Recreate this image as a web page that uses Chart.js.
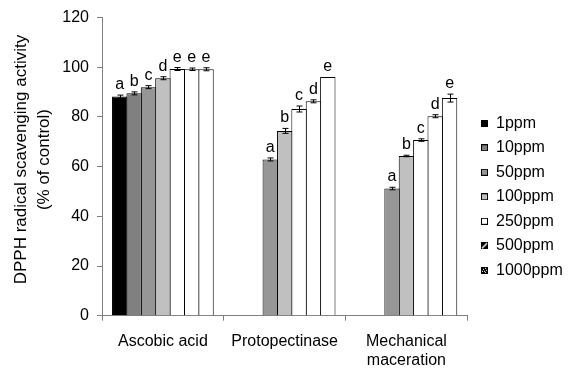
<!DOCTYPE html>
<html>
<head>
<meta charset="utf-8">
<script src="https://cdn.jsdelivr.net/npm/chart.js@4.4.1/dist/chart.umd.min.js"></script>
<style>
  html, body { margin: 0; padding: 0; background: #fff; }
  canvas { display: block; }
</style>
</head>
<body>
<canvas id="chart" width="572" height="369"></canvas>
<script>
// groups on the x axis
const categories = ["Ascobic acid", "Protopectinase", ["Mechanical", "maceration"]];
// concentrations (one dataset each)
const concentrations = ["1ppm", "10ppm", "50ppm", "100ppm", "250ppm", "500ppm", "1000ppm"];

// % of control (null = not tested)
const ascobicAcid = [88.2, 89.5, 92.0, 95.6, 99.3, 99.2, 99.2];
const protopectinase = [null, null, 62.9, 74.4, 83.2, 86.3, 96.1];
const mechanical = [null, null, 51.2, 64.3, 70.7, 80.3, 87.6];

// error bars (+/-)
const ascobicErr = [0.6, 0.6, 0.6, 0.6, 0.6, 0.5, 0.6];
const protoErr = [null, null, 0.6, 1.0, 1.2, 0.6, 0];
const mechErr = [null, null, 0.5, 0.3, 0.5, 0.6, 1.6];

// significance letters
const ascobicSig = ["a", "b", "c", "d", "e", "e", "e"];
const protoSig = [null, null, "a", "b", "c", "d", "e"];
const mechSig = [null, null, "a", "b", "c", "d", "e"];

const barColors = ["#000000", "#808080", "#969696", "#c0c0c0", "#ffffff", "#ffffff", "#ffffff"];
const axisColor = "#808080";
const fontFamily = "Arial, 'Liberation Sans', sans-serif";

// small legend icons (500ppm and 1000ppm are patterned in the legend only)
function makeIcon(i) {
  const c = document.createElement("canvas");
  c.width = 7; c.height = 7;
  const g = c.getContext("2d");
  if (i === 5) {
    g.fillStyle = "#000"; g.fillRect(0, 0, 7, 7);
    g.strokeStyle = "#fff"; g.lineWidth = 1.4;
    g.beginPath(); g.moveTo(1, 6); g.lineTo(6, 1); g.stroke();
  } else if (i === 6) {
    g.fillStyle = "#000"; g.fillRect(0, 0, 7, 7);
    g.fillStyle = "#fff";
    [[2, 2], [4, 1], [1, 4], [3, 4], [5, 3], [4, 5]].forEach(p => g.fillRect(p[0], p[1], 1, 1));
  } else {
    g.fillStyle = barColors[i]; g.fillRect(0, 0, 7, 7);
    g.strokeStyle = "#000"; g.lineWidth = 1;
    g.strokeRect(0.5, 0.5, 6, 6);
  }
  return c;
}
const legendIcons = concentrations.map((_, i) => makeIcon(i));

const datasets = concentrations.map((label, i) => ({
  label: label,
  data: [ascobicAcid[i], protopectinase[i], mechanical[i]],
  errors: [ascobicErr[i], protoErr[i], mechErr[i]],
  letters: [ascobicSig[i], protoSig[i], mechSig[i]],
  backgroundColor: barColors[i],
  borderColor: "#000",
  borderWidth: 1,
  barPercentage: 1.07,
  categoryPercentage: 0.827,
}));

// error bars + letters on top of each bar
const errorBars = {
  id: "errorBars",
  afterDatasetsDraw(chart) {
    const ctx = chart.ctx;
    const yScale = chart.scales.y;
    ctx.save();
    ctx.strokeStyle = "#000";
    ctx.lineWidth = 1;
    ctx.fillStyle = "#000";
    ctx.font = "16px " + fontFamily;
    ctx.textAlign = "center";
    ctx.textBaseline = "alphabetic";
    chart.data.datasets.forEach((ds, i) => {
      chart.getDatasetMeta(i).data.forEach((bar, j) => {
        const v = ds.data[j];
        if (v == null) return;
        const e = ds.errors[j] || 0;
        const top = yScale.getPixelForValue(v + e);
        const bot = yScale.getPixelForValue(v - e);
        const x = Math.round(bar.x) + 0.5;
        if (e > 0) {
          ctx.beginPath();
          ctx.moveTo(x, top); ctx.lineTo(x, bot);
          ctx.moveTo(x - 3, top); ctx.lineTo(x + 3, top);
          ctx.moveTo(x - 3, bot); ctx.lineTo(x + 3, bot);
          ctx.stroke();
        }
        if (ds.letters[j]) ctx.fillText(ds.letters[j], bar.x, top - 6);
      });
    });
    ctx.restore();
  }
};

// put the legend column where the original has it
const legendPlace = {
  id: "legendPlace",
  afterLayout(chart) {
    const lg = chart.legend;
    const pad = lg.options.labels.padding;
    const dx = 481 - (lg.left + pad);
    lg.left += dx; lg.right += dx;
    const y0 = (lg.top + pad + lg.bottom - lg.columnSizes[0].height) / 2;
    const dy = 123.3 - 8 - y0;
    lg.top += dy; lg.bottom += dy;
  }
};

new Chart(document.getElementById("chart"), {
  type: "bar",
  data: { labels: categories, datasets: datasets },
  plugins: [errorBars, legendPlace],
  options: {
    responsive: false,
    animation: false,
    devicePixelRatio: 1,
    layout: { padding: { top: 14.7, right: 6.7, bottom: 0, left: 0 } },
    plugins: {
      tooltip: { enabled: false },
      legend: {
        position: "right",
        maxWidth: 98,
        labels: {
          usePointStyle: true,
          boxWidth: 7,
          boxHeight: 7,
          padding: 8.5,
          color: "#000",
          font: { size: 16, family: fontFamily },
          generateLabels(chart) {
            const items = Chart.defaults.plugins.legend.labels.generateLabels(chart);
            items.forEach((it, i) => { it.pointStyle = legendIcons[i]; });
            return items;
          }
        }
      }
    },
    scales: {
      x: {
        z: 1,
        grid: { offset: true, drawOnChartArea: false, tickLength: 5, color: axisColor },
        border: { color: axisColor },
        ticks: { color: "#000", font: { size: 16, family: fontFamily }, padding: 11, maxRotation: 0, autoSkip: false },
        afterFit(s) { s.height = 53.3; }
      },
      y: {
        min: 0,
        max: 120,
        ticks: { stepSize: 20, color: "#000", font: { size: 16, family: fontFamily }, padding: 8 },
        grid: { drawOnChartArea: false, tickLength: 5, color: axisColor },
        border: { color: axisColor },
        title: {
          display: true,
          text: ["\u00a0\u00a0\u00a0DPPH radical scavenging activity", "\u00a0\u00a0\u00a0(% of control)"],
          color: "#000",
          font: { size: 17, family: fontFamily, lineHeight: 1.365 },
          padding: { top: 9.6, bottom: 0 }
        },
        afterFit(s) { s.width = 102; }
      }
    }
  }
});
</script>
</body>
</html>
